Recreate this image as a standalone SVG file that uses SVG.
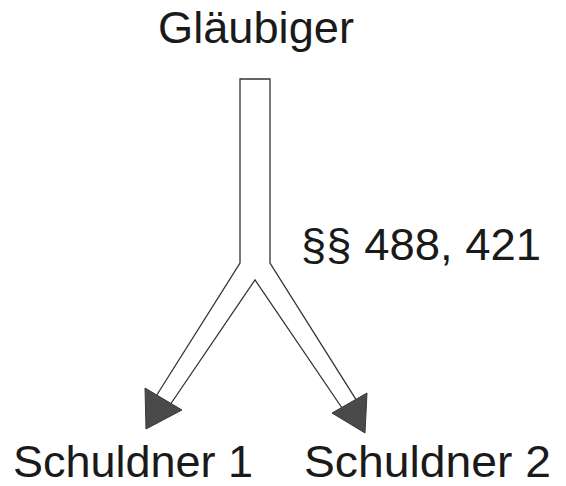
<svg xmlns="http://www.w3.org/2000/svg" width="566" height="486" viewBox="0 0 566 486">
<style>
.t{font-family:"Liberation Sans",Arial,sans-serif;font-size:44px;fill:#1a1a1a}
.ln{fill:none;stroke:#333;stroke-width:1.3;stroke-linejoin:miter}
.hd{fill:#4a4a4a;stroke:#3a3a3a;stroke-width:1}
</style>
<rect width="566" height="486" fill="#fff"/>
<g id="glaeubiger"><text class="t" x="158" y="43" textLength="196" lengthAdjust="spacingAndGlyphs">Gläubiger</text></g>
<g id="schuldner1"><text class="t" x="13" y="477" textLength="240" lengthAdjust="spacingAndGlyphs">Schuldner 1</text></g>
<g id="schuldner2"><text class="t" x="304" y="477" textLength="247" lengthAdjust="spacingAndGlyphs">Schuldner 2</text></g>
<g id="label"><text class="t" x="301" y="260" textLength="240" lengthAdjust="spacingAndGlyphs">§§ 488, 421</text></g>
<g id="connectors">
<path class="ln" d="M156.8,395 L240,263 L240,79 L270,79 L270,263 L355.9,399.3"/>
<path class="ln" d="M171,403.5 L255,280 L341.7,407.5"/>
<polygon class="hd" points="145,388 182,410 146,429"/>
<polygon class="hd" points="367,393 332,413 365,433"/>
</g>
</svg>
